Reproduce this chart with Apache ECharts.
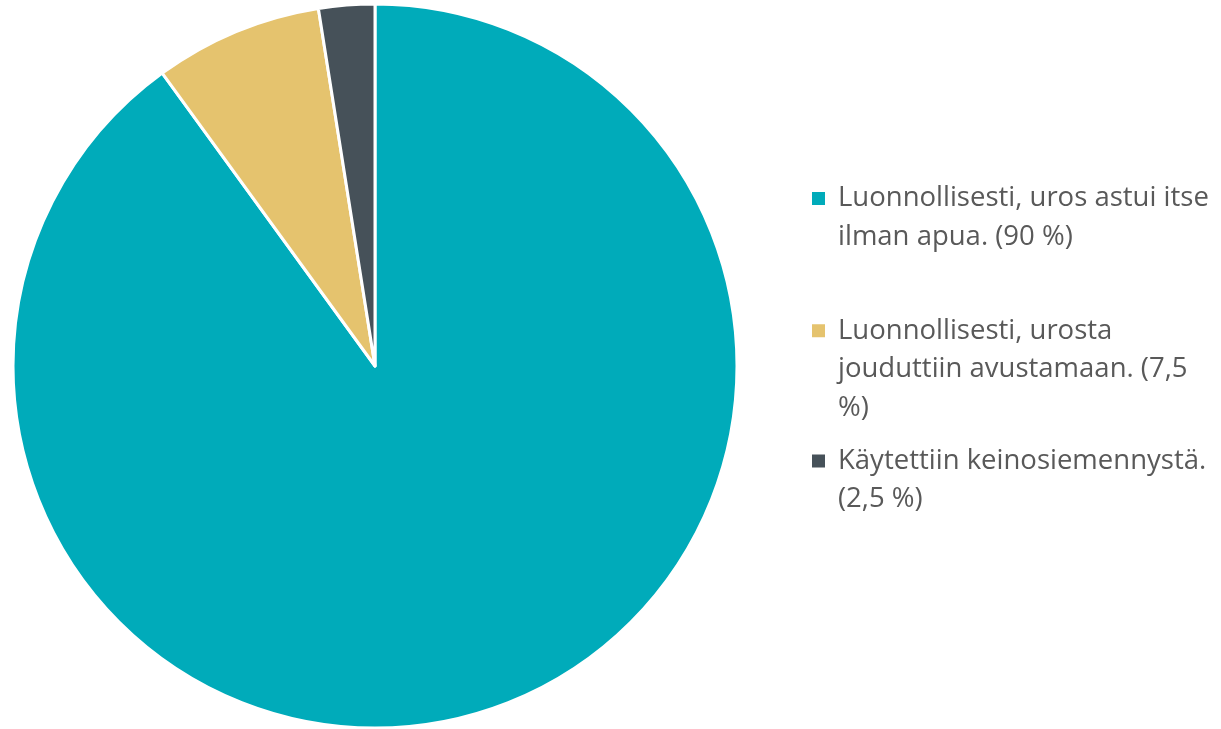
<!DOCTYPE html>
<html>
<head>
<meta charset="utf-8">
<script src="https://cdn.jsdelivr.net/npm/echarts@6/dist/echarts.min.js"></script>
<style>
  html, body { margin: 0; padding: 0; background: #fff; }
  #pie { width: 1221px; height: 729px; }
</style>
</head>
<body>
<div id="pie"></div>
<script>
// 数据
const names = [
  "Luonnollisesti, uros astui itse ilman apua. (90 %)",
  "Luonnollisesti, urosta jouduttiin avustamaan. (7,5 %)",
  "Käytettiin keinosiemennystä. (2,5 %)",
];
// legend text, wrapped like the original
const wrapped = [
  ["Luonnollisesti, uros astui itse", "ilman apua. (90 %)"],
  ["Luonnollisesti, urosta", "jouduttiin avustamaan. (7,5", "%)"],
  ["Käytettiin keinosiemennystä.", "(2,5 %)"],
];
const values = [90, 7.5, 2.5];
const colors = ["#00abba", "#e5c36e", "#465159"];

const myChart = echarts.init(document.querySelector("#pie"));

// one legend per item; blank lines in front keep the icon on the first line
const iconY = [204, 336, 466];
const lineHeights = [39, 38.5, 38];
const legends = names.map((name, i) => {
  const n = wrapped[i].length;
  const lh = lineHeights[i];
  const lines = new Array(n - 1).fill(" ").concat(wrapped[i]);
  const text = lines.map((s) => `{t|${s}}`).join("\n");
  return {
    data: [name],
    orient: "vertical",
    left: 812,
    top: iconY[i] - ((2 * n - 1) * lh) / 2,
    padding: 0,
    itemWidth: 13,
    itemHeight: 13,
    itemGap: 0,
    icon: "rect",
    itemStyle: { borderWidth: 0 },
    selectedMode: false,
    formatter: () => text,
    textStyle: {
      rich: {
        t: {
          fontFamily: "Open Sans",
          fontSize: 27.5,
          color: "#595959",
          lineHeight: lh,
          padding: [0, 0, 0, 8],
        },
      },
    },
  };
});

const option = {
  animation: false,
  color: colors,
  legend: legends,
  series: [
    {
      type: "pie",
      center: [375, 366],
      radius: 362,
      startAngle: 90,
      clockwise: true,
      label: { show: false },
      labelLine: { show: false },
      emphasis: { disabled: true },
      itemStyle: {
        borderColor: "#fff",
        borderWidth: 3,
      },
      data: names.map((name, i) => ({ name, value: values[i] })),
    },
  ],
};
myChart.setOption(option);
</script>
</body>
</html>
